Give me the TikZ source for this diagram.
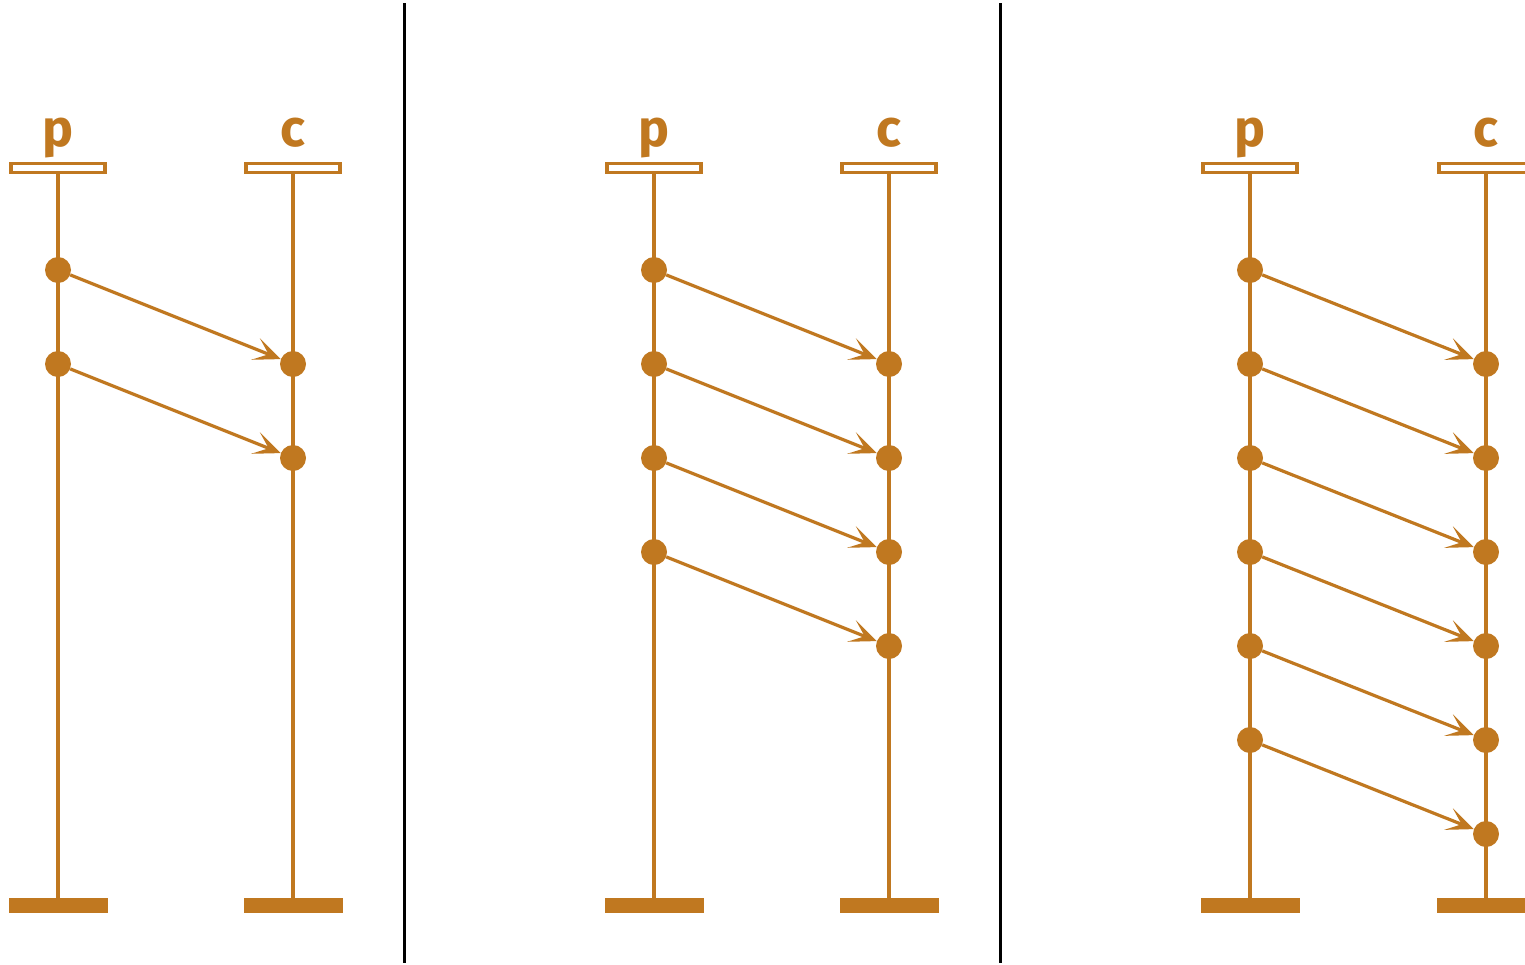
\documentclass[tikz,border=0pt]{standalone}
\usepackage{fontspec}
\setmainfont{Fira Sans}
\usetikzlibrary{arrows.meta}
\definecolor{oc}{HTML}{C07820}
\tikzset{
  x=1pt,y=-1pt,
  lifeline/.style={draw=oc,line width=3.2pt},
  headbox/.style={draw=oc,fill=white,line width=3.2pt,minimum width=94pt,minimum height=9pt,inner sep=0pt,rectangle},
  footbar/.style={fill=oc,minimum width=99pt,minimum height=15pt,inner sep=0pt,rectangle},
  dot/.style={circle,fill=oc,minimum size=26pt,inner sep=0pt},
  lbl/.style={text=oc,font=\fontsize{52}{52}\selectfont\bfseries,inner sep=0pt,anchor=base},
  msg/.style={draw=oc,line width=3.2pt,-{Stealth[length=27pt,width=23pt,inset=14pt]}},
  divider/.style={draw=black,line width=3pt}
}
\begin{document}
\begin{tikzpicture}
\useasboundingbox (0,0) rectangle (1525,964);
\draw[divider] (404.5,3) coordinate (d1a) -- (404.5,963) coordinate (d1b);
\draw[divider] (1000.5,3) coordinate (d2a) -- (1000.5,963) coordinate (d2b);
\foreach \px/\cx/\n/\pan in {58/293/2/a,654/889/4/b,1250/1486/6/c}{
  \node[lbl] (p\pan) at (\px,146) {p};
  \node[lbl] (c\pan) at (\cx,146) {c};
  \node[footbar] (pf\pan) at (\px,905.5) {};
  \node[footbar] (cf\pan) at (\cx,905.5) {};
  \draw[lifeline] (\px,168) -- (pf\pan.north);
  \draw[lifeline] (\cx,168) -- (cf\pan.north);
  \node[headbox] (ph\pan) at (\px,168) {};
  \node[headbox] (ch\pan) at (\cx,168) {};
  \foreach \i in {1,...,\n}{
    \node[dot] (pe\pan\i) at (\px,{270+94*(\i-1)}) {};
    \node[dot] (ce\pan\i) at (\cx,{364+94*(\i-1)}) {};
    \draw[msg] (pe\pan\i) -- (ce\pan\i);
  }
}
\end{tikzpicture}
\end{document}
